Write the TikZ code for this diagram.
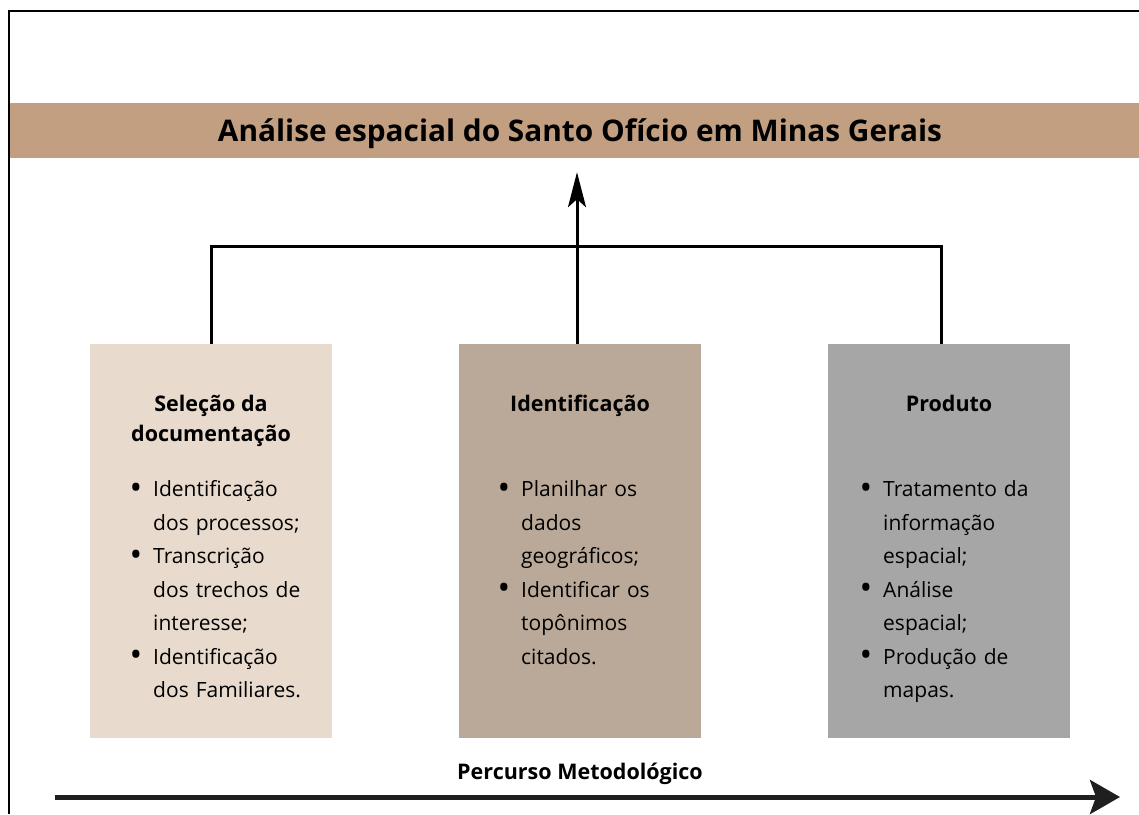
\documentclass[tikz,border=0pt]{standalone}
\usepackage{fontspec}
\setmainfont{Open Sans}
\usepackage{enumitem}
\usetikzlibrary{%
    arrows.meta,
    calc,
    positioning
}
\definecolor{titlebrown}{HTML}{C39F81}
\definecolor{selbeige}{HTML}{E8DACD}
\definecolor{identtaupe}{HTML}{BAA998}
\definecolor{prodgray}{HTML}{A6A6A6}
\setlist[itemize]{nosep, leftmargin=20pt, labelsep=11pt,
    label={\raisebox{-2.5pt}{\scalebox{1.6}{\textbullet}}}}
\tikzset{stagebox/.style = {minimum width=242pt, minimum height=394pt, inner sep=0pt, outer sep=0pt}}
\tikzset{stagehead/.style = {anchor=north, align=center, inner sep=0pt, font=\bfseries\fontsize{21.5}{30}\selectfont}}
\tikzset{stagelist/.style = {anchor=north west, text width=190pt, align=left, inner sep=0pt, font=\fontsize{21}{33.5}\selectfont}}
\tikzset{linkarrow/.style = {line width=3pt, -{Stealth[length=35pt,width=18pt,inset=8pt]}}}
\tikzset{timearrow/.style = {line width=5pt, draw=black!88, -{Stealth[length=30pt,width=34pt,inset=6pt]}}}

\begin{document}
\begin{tikzpicture}[x=1pt,y=1pt]
    \useasboundingbox (0,0) rectangle (1139,-814);
    \draw[line width=2pt] (1139,-11) -- (9,-11) -- (9,-814);

    \node[fill=titlebrown, minimum width=1140pt, minimum height=55pt, inner sep=0pt,
          text height=28pt, text depth=6pt,
          font=\bfseries\fontsize{29.8}{32}\selectfont] (titulo) at (580,-130.5)
          {Análise espacial do Santo Ofício em Minas Gerais};

    \node[stagebox, fill=identtaupe] (ident) at (580,-541) {};
    \node[stagebox, fill=selbeige] (sel) [left=127pt of ident] {};
    \node[stagebox, fill=prodgray] (prod) [right=127pt of ident] {};

    \foreach \n/\Label in {%
        sel/{Seleção da\\documentação},
        ident/Identificação,
        prod/Produto%
        }
    \node[stagehead] (\n head) at ([yshift=-51pt]\n.north) {\Label};

    \node[stagelist] (sellist) at ([xshift=43pt,yshift=-119pt]sel.north west) {%
        \begin{itemize}
        \item Identificação\\dos processos;
        \item Transcrição\\dos trechos de\\interesse;
        \item Identificação\\dos Familiares.
        \end{itemize}};
    \node[stagelist] (identlist) at ([xshift=42pt,yshift=-119pt]ident.north west) {%
        \begin{itemize}
        \item Planilhar os\\dados\\geográficos;
        \item Identificar os\\topônimos\\citados.
        \end{itemize}};
    \node[stagelist] (prodlist) at ([xshift=35pt,yshift=-119pt]prod.north west) {%
        \begin{itemize}
        \item Tratamento da\\informação\\espacial;
        \item Análise\\espacial;
        \item Produção de\\mapas.
        \end{itemize}};

    \draw[line width=3pt] (sel.north) -- ++(0,98) -| ([xshift=-8pt]prod.north);
    \draw[linkarrow] ([xshift=-3pt]ident.north) -- ([xshift=-3pt,yshift=-14pt]titulo.south);

    \node[inner sep=0pt, font=\bfseries\fontsize{21.5}{24}\selectfont] (percurso) at (580,-774) {Percurso Metodológico};
    \coordinate (inicio) at (55,-797);
    \coordinate (fim) at (1120,-797);
    \draw[timearrow] (inicio) -- (fim);
\end{tikzpicture}
\end{document}
